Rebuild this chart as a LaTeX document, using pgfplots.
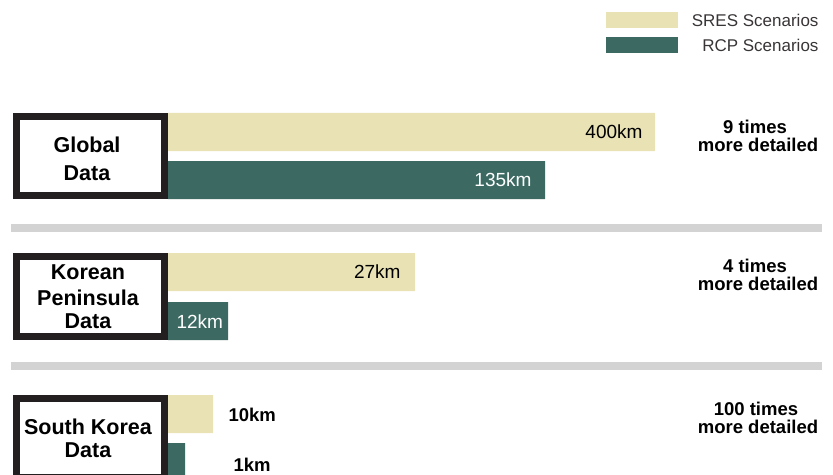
\documentclass[border=0pt]{standalone}
\usepackage{pgfplots}
\pgfplotsset{compat=1.18}
\usepackage{fontspec}
\setmainfont{Liberation Sans}
\definecolor{sres}{HTML}{E8E2B5}
\definecolor{rcp}{HTML}{3C6A63}
\definecolor{sep}{HTML}{D3D3D3}
\definecolor{ink}{HTML}{231F20}
\begin{document}
\begin{tikzpicture}
\useasboundingbox (0,0) rectangle (833bp,475bp);
\clip (0,0) rectangle (833bp,475bp);
\begin{axis}[at={(0,0)}, anchor=south west, scale only axis,
  width=833bp, height=475bp, xmin=-168, xmax=665, ymin=0, ymax=475,
  y dir=reverse, hide axis, clip=false,
  every node/.style={inner sep=0pt, text=ink}]
% separators
\fill[sep] (axis cs:-157,224) rectangle (axis cs:654,231.5);
\fill[sep] (axis cs:-157,362) rectangle (axis cs:654,369.5);
% bars
\addplot[xbar, bar width=38, bar shift=0pt, fill=sres, draw=none]
  coordinates {(487,132) (247,272) (45,414)};
\addplot[xbar, bar width=38, bar shift=0pt, fill=rcp, draw=none]
  coordinates {(377,180) (60,321) (17,462)};
% boxes
\draw[ink, line width=7bp] (axis cs:-151.5,116.5) rectangle (axis cs:-3.5,195.5);
\draw[ink, line width=7bp] (axis cs:-151.5,256.5) rectangle (axis cs:-3.5,336.5);
\draw[ink, line width=7bp] (axis cs:-151.5,398.5) rectangle (axis cs:-3.5,477.5);
% box labels
\begin{scope}[every node/.append style={font=\fontsize{21.5bp}{25bp}\selectfont\bfseries}]
\node at (axis cs:-81,145) {Global};
\node at (axis cs:-81,173) {Data};
\node at (axis cs:-80,272) {Korean};
\node at (axis cs:-80,297.5) {Peninsula};
\node at (axis cs:-80,321) {Data};
\node at (axis cs:-80,427) {South Korea};
\node at (axis cs:-80,450.5) {Data};
\end{scope}
% bar labels
\begin{scope}[every node/.append style={font=\fontsize{19bp}{22bp}\selectfont}]
\node[anchor=east] at (axis cs:478,131.5) {400km};
\node[anchor=east, text=white] at (axis cs:367,180) {135km};
\node[anchor=east] at (axis cs:236,271.5) {27km};
\node[anchor=west, text=white] at (axis cs:5,322) {12km};
\end{scope}
\begin{scope}[every node/.append style={font=\fontsize{18.5bp}{20bp}\selectfont\bfseries}]
\node[anchor=west] at (axis cs:57,414.5) {10km};
\node[anchor=west] at (axis cs:62,464.5) {1km};
% right texts
\node at (axis cs:587,126.5) {9 times};
\node at (axis cs:590,145) {more detailed};
\node at (axis cs:587,265.5) {4 times};
\node at (axis cs:590,284) {more detailed};
\node at (axis cs:588,409) {100 times};
\node at (axis cs:590,426.5) {more detailed};
\end{scope}
% legend
\fill[sres] (axis cs:438,12) rectangle (axis cs:510,28);
\fill[rcp] (axis cs:438,37) rectangle (axis cs:510,53);
\begin{scope}[every node/.append style={font=\fontsize{17bp}{20bp}\selectfont, text=ink!90}]
\node[anchor=east] at (axis cs:654,20) {SRES Scenarios};
\node[anchor=east] at (axis cs:654,45) {RCP Scenarios};
\end{scope}
\end{axis}
\end{tikzpicture}
\end{document}
